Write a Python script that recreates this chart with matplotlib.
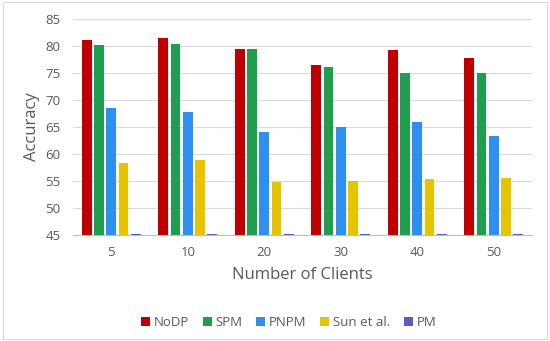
import matplotlib.pyplot as plt
import numpy as np
from matplotlib.patches import Rectangle

clients = ['5', '10', '20', '30', '40', '50']
series_names = ['NoDP', 'SPM', 'PNPM', 'Sun et al.', 'PM']
nodp = [81.2, 81.5, 79.5, 76.5, 79.3, 77.7]
spm = [80.2, 80.4, 79.4, 76.1, 75.1, 75.1]
pnpm = [68.5, 67.8, 64.1, 65.0, 65.9, 63.3]
sun = [58.4, 58.8, 54.8, 55.0, 55.4, 55.5]
pm = [45.1, 45.1, 45.1, 45.1, 45.1, 45.1]
colors = ['#C00000', '#1E9E4E', '#2F8FF0', '#E8C400', '#5B5BC8']

plt.rcParams['font.family'] = ['Open Sans', 'DejaVu Sans']
fig = plt.figure(figsize=(5.5, 3.41), dpi=100)
ax = fig.add_axes([0.133, 0.311, 0.834, 0.633])

x = np.arange(len(clients))
pitch = 0.16
width = 0.128
all_series = [nodp, spm, pnpm, sun, pm]
for i, (vals, name, c) in enumerate(zip(all_series, series_names, colors)):
    offset = (i - 2) * pitch
    heights = np.array(vals) - 45
    ax.bar(x + offset, heights, width, bottom=45, color=c, label=name, zorder=3)

ax.set_ylim(45, 85)
ax.set_xlim(-0.5, len(clients) - 0.5)
ax.set_yticks(range(45, 86, 5))
ax.set_xticks(x)
ax.set_xticklabels(clients)
ax.grid(axis='y', color='#d9d9d9', linewidth=0.8, zorder=0)
for s in ['top', 'right', 'left']:
    ax.spines[s].set_visible(False)
ax.spines['bottom'].set_color('#bfbfbf')
ax.tick_params(axis='both', length=0, colors='#595959', labelsize=9.5)
ax.tick_params(axis='x', pad=8)
ax.tick_params(axis='y', pad=9)
ax.set_ylabel('Accuracy', fontsize=12, color='#595959', labelpad=4)
ax.set_xlabel('Number of Clients', fontsize=12, color='#595959', labelpad=6)

ax.legend(loc='upper center', bbox_to_anchor=(0.47, -0.32), ncol=5, frameon=False,
          fontsize=9.5, handlelength=0.7, handleheight=0.7, handletextpad=0.3,
          columnspacing=1.0, labelcolor='#595959')

fig.patches.append(Rectangle((0.005, 0.005), 0.99, 0.99, transform=fig.transFigure,
                             fill=False, edgecolor='#d9d9d9', linewidth=0.8))

fig.savefig('out.png', dpi=100)
